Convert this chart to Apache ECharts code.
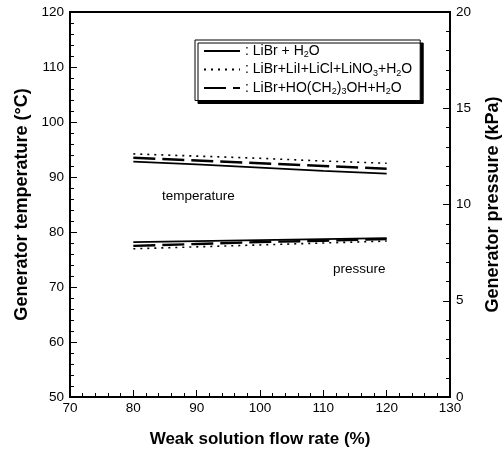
<!DOCTYPE html>
<html><head><meta charset="utf-8">
<script src="https://cdn.jsdelivr.net/npm/echarts@6/dist/echarts.min.js"></script>
<style>html,body{margin:0;padding:0;background:#fff}#c{width:504px;height:450px}</style>
</head><body><div id="c"></div>
<script>
const flowRate = [80, 90, 100, 110, 120];
const tempLiBr = [92.8, 92.3, 91.7, 91.1, 90.6];
const tempMulti = [94.2, 93.8, 93.4, 92.9, 92.5];
const tempDiol = [93.5, 93.0, 92.5, 92.0, 91.5];
const presLiBr = [8.05, 8.1, 8.15, 8.2, 8.25];
const presMulti = [7.7, 7.8, 7.9, 8.0, 8.1];
const presDiol = [7.85, 7.95, 8.05, 8.12, 8.2];
const names = ['LiBr + H2O', 'LiBr+LiI+LiCl+LiNO3+H2O', 'LiBr+HO(CH2)3OH+H2O'];

const FONT = '"Liberation Sans", Arial, sans-serif';
const chart = echarts.init(document.getElementById('c'));
const pair = (ys) => flowRate.map((x, i) => [x, ys[i]]);
const styles = [
  {type: 'solid', width: 1.8},
  {type: [2, 5], width: 1.6},
  {type: [22, 7], width: 2.4}
];
function mk(name, data, yi, st) {
  return {name: name, type: 'line', yAxisIndex: yi, data: pair(data),
    symbol: 'none',
    lineStyle: {color: '#000', width: st.width, type: st.type}, itemStyle: {color: '#000'},
    animation: false, silent: true};
}
const legendRich = {
  b: {fontFamily: FONT, fontSize: 14, color: '#000'},
  s: {fontFamily: FONT, fontSize: 9, color: '#000', padding: [8, 0, 0, 0]}
};
function fmt(n) {
  const parts = {
    'LiBr + H2O': '{b|: LiBr + H}{s|2}{b|O}',
    'LiBr+LiI+LiCl+LiNO3+H2O': '{b|: LiBr+LiI+LiCl+LiNO}{s|3}{b|+H}{s|2}{b|O}',
    'LiBr+HO(CH2)3OH+H2O': '{b|: LiBr+HO(CH}{s|2}{b|)}{s|3}{b|OH+H}{s|2}{b|O}'
  };
  return parts[n];
}
const axisCommon = {
  axisLine: {show: true, lineStyle: {color: '#000', width: 1.8}},
  axisTick: {show: true, inside: true, length: 7, lineStyle: {color: '#000', width: 1}},
  minorTick: {show: true, splitNumber: 5, length: 4, lineStyle: {color: '#000', width: 1}},
  splitLine: {show: false},
  axisLabel: {color: '#000', fontFamily: FONT, fontSize: 13.5},
  nameTextStyle: {color: '#000', fontFamily: FONT, fontSize: 17, fontWeight: 'bold'}
};
chart.setOption({
  animation: false,
  grid: {left: 70, right: 54, top: 12, bottom: 53, show: true, borderColor: '#000', borderWidth: 1.8,
    backgroundColor: 'transparent', containLabel: false, outerBoundsMode: 'none'},
  xAxis: Object.assign({}, axisCommon, {
    type: 'value', min: 70, max: 130, interval: 10,
    name: 'Weak solution flow rate (%)', nameLocation: 'middle', nameGap: 34,
    axisLabel: Object.assign({}, axisCommon.axisLabel, {margin: 4})
  }),
  yAxis: [
    Object.assign({}, axisCommon, {
      type: 'value', min: 50, max: 120, interval: 10, position: 'left',
      name: 'Generator temperature (°C)', nameLocation: 'middle', nameGap: 38,
      nameTextStyle: Object.assign({}, axisCommon.nameTextStyle, {fontSize: 18}),
      axisLabel: Object.assign({}, axisCommon.axisLabel, {margin: 6})
    }),
    Object.assign({}, axisCommon, {
      type: 'value', min: 0, max: 20, interval: 5, position: 'right',
      name: 'Generator pressure (kPa)', nameLocation: 'middle', nameGap: 34, nameRotate: 90,
      nameTextStyle: Object.assign({}, axisCommon.nameTextStyle, {fontSize: 18}),
      axisLabel: Object.assign({}, axisCommon.axisLabel, {margin: 6})
    })
  ],
  legend: {
    show: true, orient: 'vertical', left: 195, top: 40,
    data: names, itemWidth: 36, itemHeight: 10, itemGap: 3,
    itemStyle: {opacity: 0},
    backgroundColor: '#fff', borderColor: '#000', borderWidth: 1,
    padding: [4, 8, 4, 8],
    shadowColor: '#000', shadowBlur: 0, shadowOffsetX: 3, shadowOffsetY: 3,
    formatter: fmt,
    textStyle: {rich: legendRich, color: '#000'},
    selectedMode: false
  },
  graphic: [
    {type: 'text', left: 162, top: 189, silent: true,
      style: {text: 'temperature', fill: '#000', font: '13.5px ' + FONT}},
    {type: 'text', left: 333, top: 262, silent: true,
      style: {text: 'pressure', fill: '#000', font: '13.5px ' + FONT}}
  ],
  series: [
    mk(names[0], tempLiBr, 0, styles[0]),
    mk(names[1], tempMulti, 0, styles[1]),
    mk(names[2], tempDiol, 0, styles[2]),
    mk(names[0], presLiBr, 1, styles[0]),
    mk(names[1], presMulti, 1, styles[1]),
    mk(names[2], presDiol, 1, styles[2])
  ]
});
</script></body></html>
